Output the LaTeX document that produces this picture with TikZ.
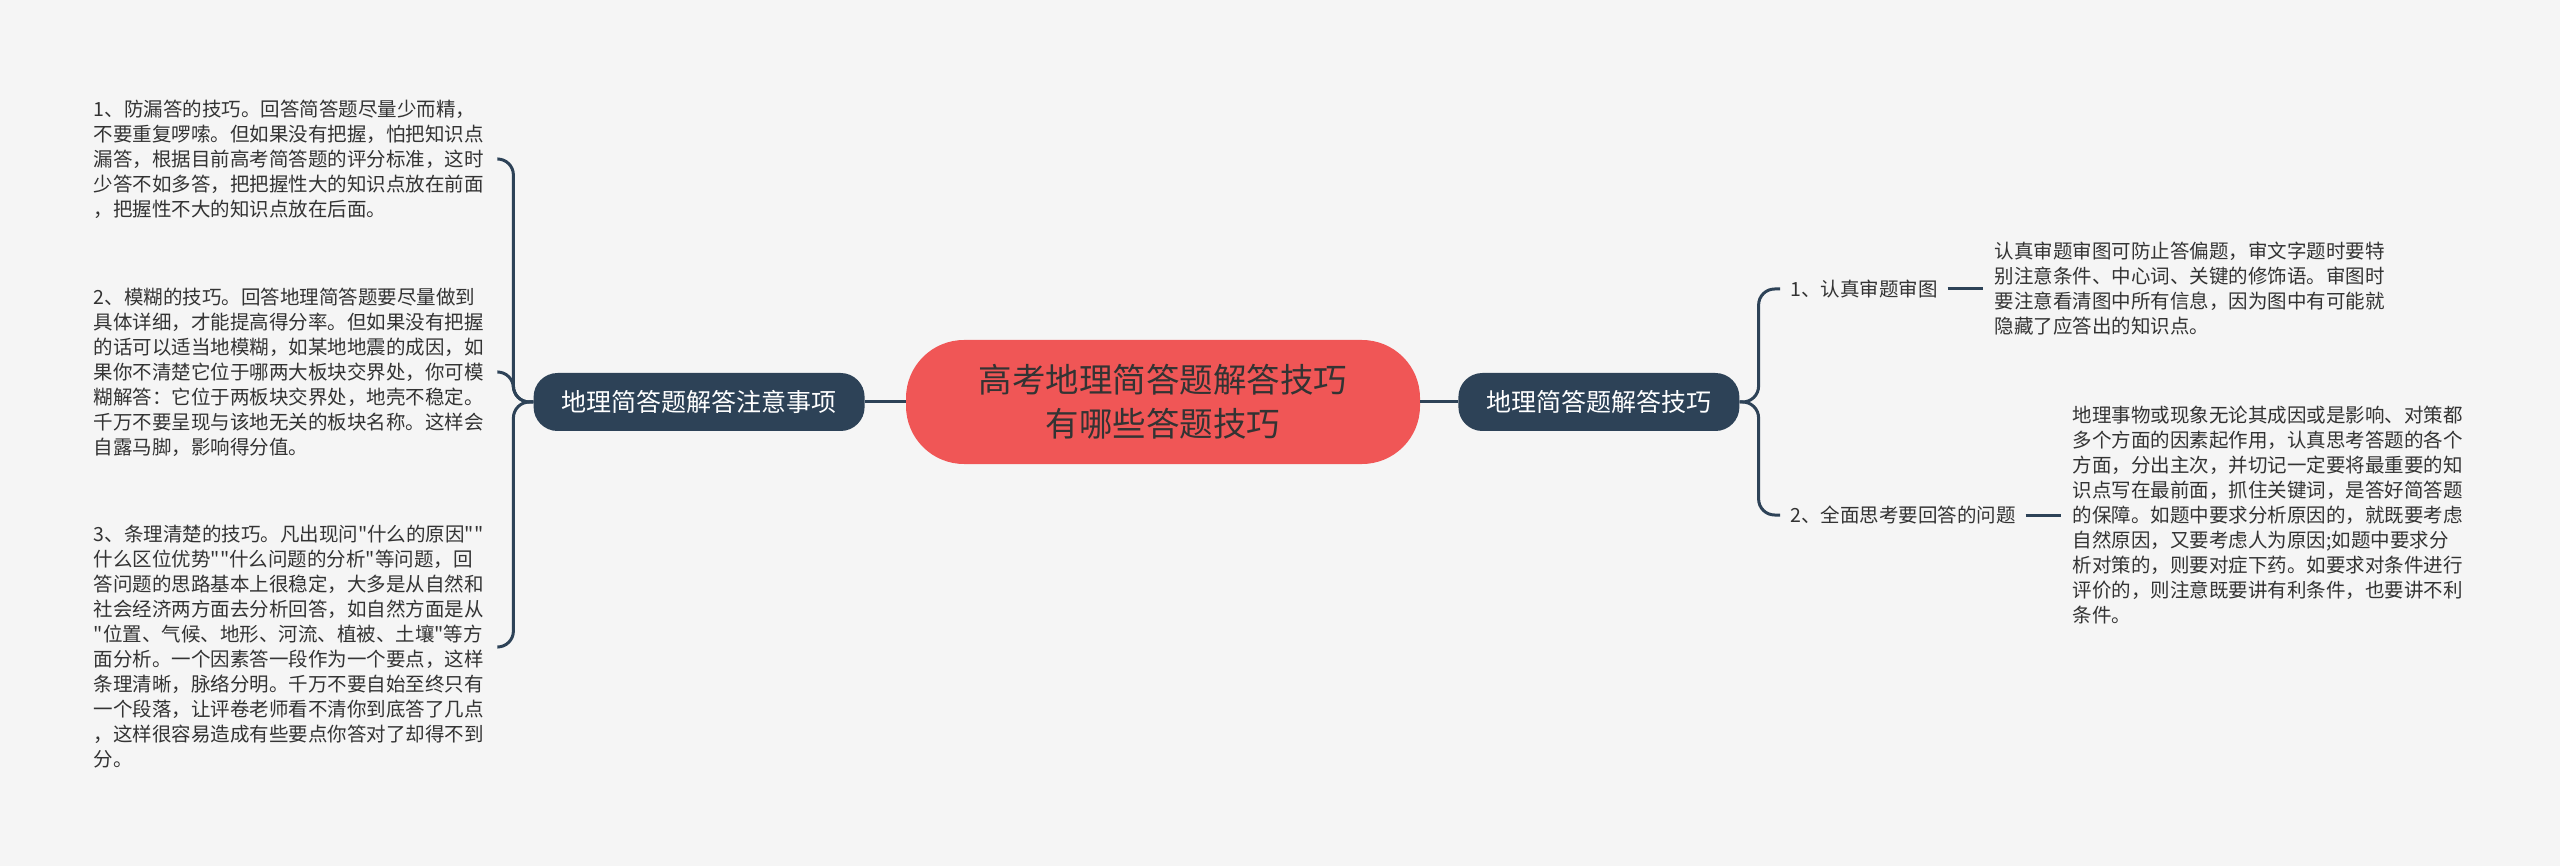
\documentclass[tikz,border=0pt]{standalone}
\usepackage{fontspec}
\newfontfamily\cjk{Noto Sans CJK SC}
\usetikzlibrary{positioning}
\definecolor{navy}{HTML}{2D4257}
\definecolor{rootred}{HTML}{F05656}
\definecolor{paper}{HTML}{F5F5F5}
\definecolor{ink}{HTML}{333333}

\begin{document}
\begin{tikzpicture}[x=1pt, y=-1pt,
  root/.style={fill=rootred, rounded corners=58pt, minimum width=514pt, minimum height=124pt,
               align=center, text=ink, font=\cjk\fontsize{33.5}{44}\selectfont},
  topic/.style={fill=navy, rounded corners=24pt, minimum height=58pt, inner xsep=28pt,
                text=white, font=\cjk\fontsize{25}{30}\selectfont},
  leaf/.style={align=left, text width=392pt, inner xsep=12pt, inner ysep=0pt, text=ink,
               font=\cjk\fontsize{19.5}{25}\selectfont},
  point/.style={inner xsep=10pt, inner ysep=0pt, text=ink, font=\cjk\fontsize{19.5}{25}\selectfont},
  link/.style={draw=navy, line width=3pt, rounded corners=16pt}]
  \useasboundingbox (0,0) rectangle (2560,866);
  \fill[paper] (0,0) rectangle (2560,866);

  \node[root] (root) at (1163,402) {高考地理简答题解答技巧\\有哪些答题技巧};
  \node[topic, left=41pt of root] (notes) {地理简答题解答注意事项};
  \node[topic, right=38pt of root] (skills) {地理简答题解答技巧};

  % left side
  \node[leaf, anchor=east] (tip1) at (498,159) {1、防漏答的技巧。回答简答题尽量少而精，\\
    不要重复啰嗦。但如果没有把握，怕把知识点\\
    漏答，根据目前高考简答题的评分标准，这时\\
    少答不如多答，把把握性大的知识点放在前面\\
    ，把握性不大的知识点放在后面。};
  \node[leaf, anchor=east] (tip2) at (498,372) {2、模糊的技巧。回答地理简答题要尽量做到\\
    具体详细，才能提高得分率。但如果没有把握\\
    的话可以适当地模糊，如某地地震的成因，如\\
    果你不清楚它位于哪两大板块交界处，你可模\\
    糊解答：它位于两板块交界处，地壳不稳定。\\
    千万不要呈现与该地无关的板块名称。这样会\\
    自露马脚，影响得分值。};
  \node[leaf, anchor=east] (tip3) at (498,647) {3、条理清楚的技巧。凡出现问"什么的原因""\\
    什么区位优势""什么问题的分析"等问题，回\\
    答问题的思路基本上很稳定，大多是从自然和\\
    社会经济两方面去分析回答，如自然方面是从\\
    "位置、气候、地形、河流、植被、土壤"等方\\
    面分析。一个因素答一段作为一个要点，这样\\
    条理清晰，脉络分明。千万不要自始至终只有\\
    一个段落，让评卷老师看不清你到底答了几点\\
    ，这样很容易造成有些要点你答对了却得不到\\
    分。};

  % right side
  \node[point, anchor=west] (p1) at (1780,289) {1、认真审题审图};
  \node[point, anchor=west] (p2) at (1780,515) {2、全面思考要回答的问题};
  \node[leaf, right=35pt of p1] (d1) {认真审题审图可防止答偏题，审文字题时要特\\
    别注意条件、中心词、关键的修饰语。审图时\\
    要注意看清图中所有信息，因为图中有可能就\\
    隐藏了应答出的知识点。};
  \node[leaf, right=35pt of p2] (d2) {地理事物或现象无论其成因或是影响、对策都\\
    多个方面的因素起作用，认真思考答题的各个\\
    方面，分出主次，并切记一定要将最重要的知\\
    识点写在最前面，抓住关键词，是答好简答题\\
    的保障。如题中要求分析原因的，就既要考虑\\
    自然原因，又要考虑人为原因;如题中要求分\\
    析对策的，则要对症下药。如要求对条件进行\\
    评价的，则注意既要讲有利条件，也要讲不利\\
    条件。};

  \draw[link] (root) -- (notes);
  \draw[link] (root) -- (skills);
  \foreach \t in {tip1, tip2, tip3}
    \draw[link] (notes.west) -- ++(-20,0) |- (\t.east);
  \foreach \p in {p1, p2}
    \draw[link] (skills.east) -- ++(19,0) |- (\p.west);
  \draw[link] (p1) -- (d1);
  \draw[link] (p2) -- (d2);
\end{tikzpicture}
\end{document}
